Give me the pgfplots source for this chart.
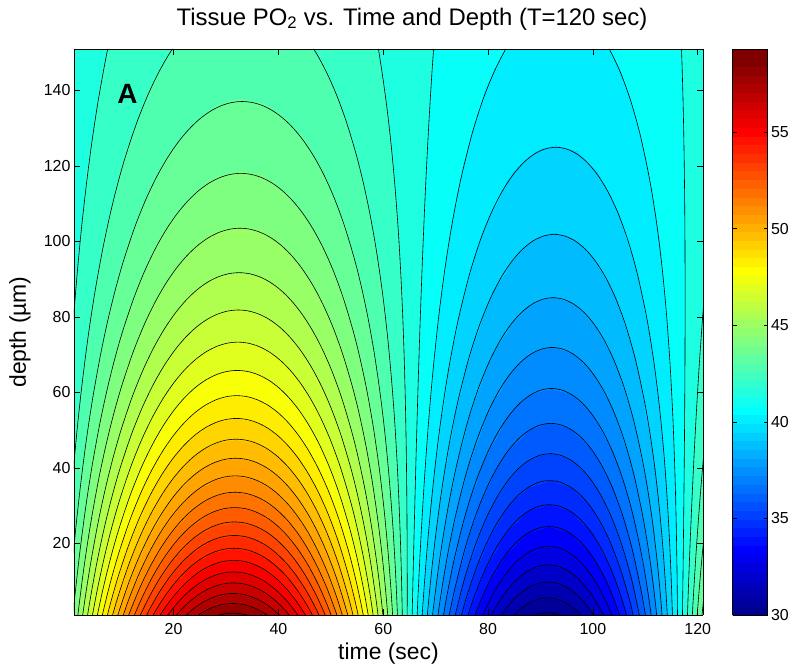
\documentclass[border=0pt]{standalone}
\usepackage{pgfplots}
\usepackage{pgfplotstable}
\pgfplotsset{compat=1.18}
\usepackage{fontspec}
\setmainfont{Liberation Sans}
\pgfplotsset{colormap={jetsixtyfour}{
rgb=(0,0,0.5625) rgb=(0,0,0.625) rgb=(0,0,0.6875) rgb=(0,0,0.75) rgb=(0,0,0.8125) rgb=(0,0,0.875) rgb=(0,0,0.9375) rgb=(0,0,1)
rgb=(0,0.0625,1) rgb=(0,0.125,1) rgb=(0,0.1875,1) rgb=(0,0.25,1) rgb=(0,0.3125,1) rgb=(0,0.375,1) rgb=(0,0.4375,1) rgb=(0,0.5,1)
rgb=(0,0.5625,1) rgb=(0,0.625,1) rgb=(0,0.6875,1) rgb=(0,0.75,1) rgb=(0,0.8125,1) rgb=(0,0.875,1) rgb=(0,0.9375,1) rgb=(0,1,1)
rgb=(0.0625,1,0.9375) rgb=(0.125,1,0.875) rgb=(0.1875,1,0.8125) rgb=(0.25,1,0.75) rgb=(0.3125,1,0.6875) rgb=(0.375,1,0.625) rgb=(0.4375,1,0.5625) rgb=(0.5,1,0.5)
rgb=(0.5625,1,0.4375) rgb=(0.625,1,0.375) rgb=(0.6875,1,0.3125) rgb=(0.75,1,0.25) rgb=(0.8125,1,0.1875) rgb=(0.875,1,0.125) rgb=(0.9375,1,0.0625) rgb=(1,1,0)
rgb=(1,0.9375,0) rgb=(1,0.875,0) rgb=(1,0.8125,0) rgb=(1,0.75,0) rgb=(1,0.6875,0) rgb=(1,0.625,0) rgb=(1,0.5625,0) rgb=(1,0.5,0)
rgb=(1,0.4375,0) rgb=(1,0.375,0) rgb=(1,0.3125,0) rgb=(1,0.25,0) rgb=(1,0.1875,0) rgb=(1,0.125,0) rgb=(1,0.0625,0) rgb=(1,0,0)
rgb=(0.9375,0,0) rgb=(0.875,0,0) rgb=(0.8125,0,0) rgb=(0.75,0,0) rgb=(0.6875,0,0) rgb=(0.625,0,0) rgb=(0.5625,0,0) rgb=(0.5,0,0)
rgb=(0.5,0,0)}}
% master shape of the arches around the maximum (u = offset in s, Z = depth shape)
\pgfplotstableread{
u Z w
-33.41 -49.51 60
-33.31 -40.54 60
-33.18 -29.64 60
-33.01 -17.84 60
-32.81 -6.53 60
-32.55 5.91 60
-32.22 18.61 60
-31.83 31.05 60
-31.37 42.98 60
-30.85 54.28 60
-30.20 66.01 60
-29.41 77.67 60
-28.50 88.98 60
-27.45 99.79 60
-26.13 111.09 60
-24.79 120.65 60
-23.42 128.93 60
-22 136.29 60
-20 145.04 60
-18 152.29 60
-16 158.32 60
-14 163.34 60
-12 167.49 60
-10 170.87 60
-8 173.56 60
-6 175.60 60
-4 177.03 60
-2 177.88 60
0 178.16 60
2 177.88 60
4 177.03 60
6 175.60 60
8 173.56 60
10 170.87 60
12 167.49 60
14 163.34 60
16 158.32 60
18 152.29 60
20 145.04 60
22 136.29 60
23.42 128.93 60
24.79 120.65 60
26.13 111.09 60
27.45 99.79 60
28.50 88.98 60
29.41 77.67 60
30.20 66.01 60
30.85 54.28 60
31.37 42.98 60
31.83 31.05 60
32.22 18.61 60
32.55 5.91 60
32.81 -6.53 60
33.01 -17.84 60
33.18 -29.64 60
33.31 -40.54 60
33.41 -49.51 60
}\masterA
% master shape of the arches around the minimum
\pgfplotstableread{
u Z w
-25.82 -126.49 60
-25.77 -111.71 60
-25.71 -96.76 60
-25.63 -81.18 60
-25.54 -66.89 60
-25.42 -52.33 60
-25.27 -38.20 60
-25.08 -23.91 60
-24.85 -10.08 60
-24.58 3.02 60
-24.24 16.27 60
-23.83 29.14 60
-23.28 42.98 60
-22.58 56.81 60
-21.73 70.15 60
-20.71 82.77 60
-19.51 94.62 60
-18 106.38 60
-16 118.42 60
-14 127.65 60
-12 134.85 60
-10 140.47 60
-8 144.79 60
-6 148.01 60
-4 150.23 60
-2 151.53 60
0 151.96 60
2 151.53 60
4 150.23 60
6 148.01 60
8 144.79 60
10 140.47 60
12 134.85 60
14 127.65 60
16 118.42 60
18 106.38 60
19.51 94.62 60
20.71 82.77 60
21.73 70.15 60
22.58 56.81 60
23.28 42.98 60
23.83 29.14 60
24.24 16.27 60
24.58 3.02 60
24.85 -10.08 60
25.08 -23.91 60
25.27 -38.20 60
25.42 -52.33 60
25.54 -66.89 60
25.63 -81.18 60
25.71 -96.76 60
25.77 -111.71 60
25.82 -126.49 60
}\masterB
\begin{document}
\begin{tikzpicture}
\useasboundingbox (-74bp,-56bp) rectangle (726bp,615bp);
\begin{axis}[
  scale only axis, width=629bp, height=566bp,
  view={0}{90},
  xmin=1, xmax=121, ymin=1, ymax=151,
  xtick={20,40,60,80,100,120},
  ytick={20,40,60,80,100,120,140},
  ztick=\empty,
  xtick pos=both, ytick pos=both,
  xticklabel pos=bottom, yticklabel pos=left,
  tick align=inside,
  major tick length=6bp,
  axis line style={line width=0.8bp},
  every tick/.style={black, line width=0.6bp},
  /pgf/number format/assume math mode=true,
  tick label style={font=\fontsize{16}{19}\selectfont},
  xticklabel style={yshift=-5bp},
  title style={font=\fontsize{24}{28}\selectfont, at={(axis description cs:0.5,1)}, anchor=base, yshift=18bp, xshift=23.5bp},
  title={Tissue PO\textsubscript{2} vs. Time and Depth (T=120 sec)},
  xlabel={time (sec)},
  ylabel={depth (µm)},
  xlabel style={font=\fontsize{23}{27}\selectfont, at={(axis description cs:0.5,0)}, anchor=center, yshift=-39bp},
  ylabel style={font=\fontsize{23}{27}\selectfont, at={(axis description cs:0,0.5)}, anchor=center, yshift=54bp},
  colormap/jet,
  point meta min=30, point meta max=59.3,
  colorbar,
  colorbar style={
    at={(parent axis.north east)}, anchor=north west, xshift=21bp,
    scale only axis, width=35bp, height=566bp,
    colormap name=jetsixtyfour,
    ytick={30,35,40,45,50,55},
    ytick pos=both, yticklabel pos=right,
    tick align=inside, major tick length=4bp,
    /pgf/number format/assume math mode=true,
    yticklabel style={font=\fontsize{16}{19}\selectfont},
    axis line style={line width=0.8bp},
  },
]
\addplot3[contour filled={levels={30.11,30.82,31.53,32.24,32.94,33.65,34.36,35.07,35.78,36.49,37.20,37.90,38.61,39.32,40.03,40.74,41.45,42.15,42.86,43.57,44.28,44.99,45.70,46.41,47.11,47.82,48.53,49.24,49.95,50.66,51.37,52.07,52.78,53.49,54.20,54.91,55.62,56.32,57.03,57.74,58.45,59.16}}, mesh/cols=33]
coordinates {
(-4.7,1,40.12) (-0.7,1,43.12) (3.3,1,46.18) (7.3,1,49.18) (11.3,1,51.98) (15.3,1,54.45) (19.3,1,56.50) (23.3,1,58.03) (27.3,1,58.98) (31.3,1,59.30) (35.3,1,58.98) (39.3,1,58.03) (43.3,1,56.50) (47.3,1,54.45) (51.3,1,51.98) (55.3,1,49.18) (59.3,1,46.18) (63.3,1,43.12) (67.3,1,40.12) (71.3,1,37.33) (75.3,1,34.85) (79.3,1,32.80) (83.3,1,31.27) (87.3,1,30.32) (91.3,1,30.00) (95.3,1,30.32) (99.3,1,31.27) (103.3,1,32.80) (107.3,1,34.85) (111.3,1,37.33) (115.3,1,40.12) (119.3,1,43.12) (123.3,1,46.18)
(-4.63,6,40.24) (-0.63,6,43.00) (3.37,6,45.83) (7.37,6,48.59) (11.37,6,51.17) (15.37,6,53.46) (19.37,6,55.35) (23.37,6,56.76) (27.37,6,57.63) (31.37,6,57.93) (35.37,6,57.63) (39.37,6,56.76) (43.37,6,55.35) (47.37,6,53.46) (51.37,6,51.17) (55.37,6,48.59) (59.37,6,45.83) (63.37,6,43.00) (67.37,6,40.24) (71.37,6,37.66) (75.37,6,35.37) (79.37,6,33.48) (83.37,6,32.07) (87.37,6,31.19) (91.37,6,30.90) (95.37,6,31.19) (99.37,6,32.07) (103.37,6,33.48) (107.37,6,35.37) (111.37,6,37.66) (115.37,6,40.24) (119.37,6,43.00) (123.37,6,45.83)
(-4.57,11,40.34) (-0.57,11,42.89) (3.43,11,45.50) (7.43,11,48.05) (11.43,11,50.43) (15.43,11,52.54) (19.43,11,54.28) (23.43,11,55.59) (27.43,11,56.39) (31.43,11,56.66) (35.43,11,56.39) (39.43,11,55.59) (43.43,11,54.28) (47.43,11,52.54) (51.43,11,50.43) (55.43,11,48.05) (59.43,11,45.50) (63.43,11,42.89) (67.43,11,40.34) (71.43,11,37.96) (75.43,11,35.85) (79.43,11,34.11) (83.43,11,32.81) (87.43,11,32.00) (91.43,11,31.73) (95.43,11,32.00) (99.43,11,32.81) (103.43,11,34.11) (107.43,11,35.85) (111.43,11,37.96) (115.43,11,40.34) (119.43,11,42.89) (123.43,11,45.50)
(-4.48,18,40.48) (-0.48,18,42.75) (3.52,18,45.08) (7.52,18,47.36) (11.52,18,49.49) (15.52,18,51.37) (19.52,18,52.93) (23.52,18,54.09) (27.52,18,54.81) (31.52,18,55.06) (35.52,18,54.81) (39.52,18,54.09) (43.52,18,52.93) (47.52,18,51.37) (51.52,18,49.49) (55.52,18,47.36) (59.52,18,45.08) (63.52,18,42.75) (67.52,18,40.48) (71.52,18,38.35) (75.52,18,36.47) (79.52,18,34.91) (83.52,18,33.74) (87.52,18,33.03) (91.52,18,32.78) (95.52,18,33.03) (99.52,18,33.74) (103.52,18,34.91) (107.52,18,36.47) (111.52,18,38.35) (115.52,18,40.48) (119.52,18,42.75) (123.52,18,45.08)
(-4.37,26,40.61) (-0.37,26,42.61) (3.63,26,44.66) (7.63,26,46.66) (11.63,26,48.53) (15.63,26,50.19) (19.63,26,51.56) (23.63,26,52.58) (27.63,26,53.21) (31.63,26,53.43) (35.63,26,53.21) (39.63,26,52.58) (43.63,26,51.56) (47.63,26,50.19) (51.63,26,48.53) (55.63,26,46.66) (59.63,26,44.66) (63.63,26,42.61) (67.63,26,40.61) (71.63,26,38.74) (75.63,26,37.09) (79.63,26,35.72) (83.63,26,34.70) (87.63,26,34.06) (91.63,26,33.85) (95.63,26,34.06) (99.63,26,34.70) (103.63,26,35.72) (107.63,26,37.09) (111.63,26,38.74) (115.63,26,40.61) (119.63,26,42.61) (123.63,26,44.66)
(-4.24,36,40.76) (-0.24,36,42.46) (3.76,36,44.21) (7.76,36,45.91) (11.76,36,47.50) (15.76,36,48.91) (19.76,36,50.07) (23.76,36,50.94) (27.76,36,51.48) (31.76,36,51.66) (35.76,36,51.48) (39.76,36,50.94) (43.76,36,50.07) (47.76,36,48.91) (51.76,36,47.50) (55.76,36,45.91) (59.76,36,44.21) (63.76,36,42.46) (67.76,36,40.76) (71.76,36,39.17) (75.76,36,37.76) (79.76,36,36.59) (83.76,36,35.72) (87.76,36,35.19) (91.76,36,35.00) (95.76,36,35.19) (99.76,36,35.72) (103.76,36,36.59) (107.76,36,37.76) (111.76,36,39.17) (115.76,36,40.76) (119.76,36,42.46) (123.76,36,44.21)
(-4.09,48,40.91) (-0.09,48,42.31) (3.91,48,43.75) (7.91,48,45.15) (11.91,48,46.46) (15.91,48,47.62) (19.91,48,48.58) (23.91,48,49.30) (27.91,48,49.74) (31.91,48,49.89) (35.91,48,49.74) (39.91,48,49.30) (43.91,48,48.58) (47.91,48,47.62) (51.91,48,46.46) (55.91,48,45.15) (59.91,48,43.75) (63.91,48,42.31) (67.91,48,40.91) (71.91,48,39.60) (75.91,48,38.44) (79.91,48,37.48) (83.91,48,36.76) (87.91,48,36.31) (91.91,48,36.16) (95.91,48,36.31) (99.91,48,36.76) (103.91,48,37.48) (107.91,48,38.44) (111.91,48,39.60) (115.91,48,40.91) (119.91,48,42.31) (123.91,48,43.75)
(-3.92,61,41.04) (0.08,61,42.18) (4.08,61,43.34) (8.08,61,44.48) (12.08,61,45.54) (16.08,61,46.48) (20.08,61,47.26) (24.08,61,47.84) (28.08,61,48.20) (32.08,61,48.32) (36.08,61,48.20) (40.08,61,47.84) (44.08,61,47.26) (48.08,61,46.48) (52.08,61,45.54) (56.08,61,44.48) (60.08,61,43.34) (64.08,61,42.18) (68.08,61,41.04) (72.08,61,39.98) (76.08,61,39.03) (80.08,61,38.26) (84.08,61,37.67) (88.08,61,37.31) (92.08,61,37.19) (96.08,61,37.31) (100.08,61,37.67) (104.08,61,38.26) (108.08,61,39.03) (112.08,61,39.98) (116.08,61,41.04) (120.08,61,42.18) (124.08,61,43.34)
(-3.72,76,41.16) (0.28,76,42.05) (4.28,76,42.97) (8.28,76,43.86) (12.28,76,44.69) (16.28,76,45.43) (20.28,76,46.05) (24.28,76,46.50) (28.28,76,46.78) (32.28,76,46.88) (36.28,76,46.78) (40.28,76,46.50) (44.28,76,46.05) (48.28,76,45.43) (52.28,76,44.69) (56.28,76,43.86) (60.28,76,42.97) (64.28,76,42.05) (68.28,76,41.16) (72.28,76,40.32) (76.28,76,39.59) (80.28,76,38.97) (84.28,76,38.52) (88.28,76,38.24) (92.28,76,38.14) (96.28,76,38.24) (100.28,76,38.52) (104.28,76,38.97) (108.28,76,39.59) (112.28,76,40.32) (116.28,76,41.16) (120.28,76,42.05) (124.28,76,42.97)
(-3.52,92,41.26) (0.48,92,41.95) (4.48,92,42.66) (8.48,92,43.35) (12.48,92,43.99) (16.48,92,44.56) (20.48,92,45.03) (24.48,92,45.39) (28.48,92,45.61) (32.48,92,45.68) (36.48,92,45.61) (40.48,92,45.39) (44.48,92,45.03) (48.48,92,44.56) (52.48,92,43.99) (56.48,92,43.35) (60.48,92,42.66) (64.48,92,41.95) (68.48,92,41.26) (72.48,92,40.61) (76.48,92,40.04) (80.48,92,39.57) (84.48,92,39.22) (88.48,92,39.00) (92.48,92,38.93) (96.48,92,39.00) (100.48,92,39.22) (104.48,92,39.57) (108.48,92,40.04) (112.48,92,40.61) (116.48,92,41.26) (120.48,92,41.95) (124.48,92,42.66)
(-3.28,110,41.35) (0.72,110,41.86) (4.72,110,42.39) (8.72,110,42.91) (12.72,110,43.39) (16.72,110,43.82) (20.72,110,44.17) (24.72,110,44.43) (28.72,110,44.60) (32.72,110,44.65) (36.72,110,44.60) (40.72,110,44.43) (44.72,110,44.17) (48.72,110,43.82) (52.72,110,43.39) (56.72,110,42.91) (60.72,110,42.39) (64.72,110,41.86) (68.72,110,41.35) (72.72,110,40.86) (76.72,110,40.44) (80.72,110,40.08) (84.72,110,39.82) (88.72,110,39.66) (92.72,110,39.60) (96.72,110,39.66) (100.72,110,39.82) (104.72,110,40.08) (108.72,110,40.44) (112.72,110,40.86) (116.72,110,41.35) (120.72,110,41.86) (124.72,110,42.39)
(-3.02,130,41.42) (0.98,130,41.79) (4.98,130,42.17) (8.98,130,42.55) (12.98,130,42.90) (16.98,130,43.20) (20.98,130,43.46) (24.98,130,43.65) (28.98,130,43.77) (32.98,130,43.81) (36.98,130,43.77) (40.98,130,43.65) (44.98,130,43.46) (48.98,130,43.20) (52.98,130,42.90) (56.98,130,42.55) (60.98,130,42.17) (64.98,130,41.79) (68.98,130,41.42) (72.98,130,41.07) (76.98,130,40.76) (80.98,130,40.50) (84.98,130,40.31) (88.98,130,40.19) (92.98,130,40.15) (96.98,130,40.19) (100.98,130,40.31) (104.98,130,40.50) (108.98,130,40.76) (112.98,130,41.07) (116.98,130,41.42) (120.98,130,41.79) (124.98,130,42.17)
(-2.75,151,41.47) (1.25,151,41.74) (5.25,151,42.01) (9.25,151,42.27) (13.25,151,42.52) (17.25,151,42.74) (21.25,151,42.93) (25.25,151,43.06) (29.25,151,43.15) (33.25,151,43.17) (37.25,151,43.15) (41.25,151,43.06) (45.25,151,42.93) (49.25,151,42.74) (53.25,151,42.52) (57.25,151,42.27) (61.25,151,42.01) (65.25,151,41.74) (69.25,151,41.47) (73.25,151,41.22) (77.25,151,41.00) (81.25,151,40.82) (85.25,151,40.68) (89.25,151,40.60) (93.25,151,40.57) (97.25,151,40.60) (101.25,151,40.68) (105.25,151,40.82) (109.25,151,41.00) (113.25,151,41.22) (117.25,151,41.47) (121.25,151,41.74) (125.25,151,42.01)
};
% contour lines of the levels above the mean (arches round the maximum)
\pgfplotsinvokeforeach{-37.56,13.48,41.08,60.12,74.66,86.44,96.33,104.85,112.35,119.03,125.07,130.57,135.62,140.29,144.63,148.69,152.50,156.09,159.48,162.69,165.75,168.66,171.45,174.11,176.66}{
\addplot3[black, line width=0.6bp, mark=none, smooth] table[x expr={31.3+\thisrow{u}+0.013*(\thisrow{Z}-(#1)-1)}, y expr={\thisrow{Z}-(#1)}, z=w] {\masterA};
}
% the same arches one period later (entering at the right edge)
\pgfplotsinvokeforeach{-37.56,13.48,41.08,60.12}{
\addplot3[black, line width=0.6bp, mark=none, smooth] table[x expr={151.3+\thisrow{u}+0.013*(\thisrow{Z}-(#1)-1)}, y expr={\thisrow{Z}-(#1)}, z=w] {\masterA};
}
% contour lines of the levels below the mean (arches round the minimum)
\pgfplotsinvokeforeach{150.37,146.43,142.21,137.69,132.81,127.52,121.73,115.34,108.22,100.18,90.93,80.06,66.87,50.09,27.01,-10.17,-116.99}{
\addplot3[black, line width=0.6bp, mark=none, smooth] table[x expr={91.3+\thisrow{u}+0.013*(\thisrow{Z}-(#1)-1)}, y expr={\thisrow{Z}-(#1)}, z=w] {\masterB};
}
\node[font=\fontsize{28}{30}\selectfont\bfseries] at (axis cs:11.2,139,60) {A};
\end{axis}
\end{tikzpicture}
\end{document}
